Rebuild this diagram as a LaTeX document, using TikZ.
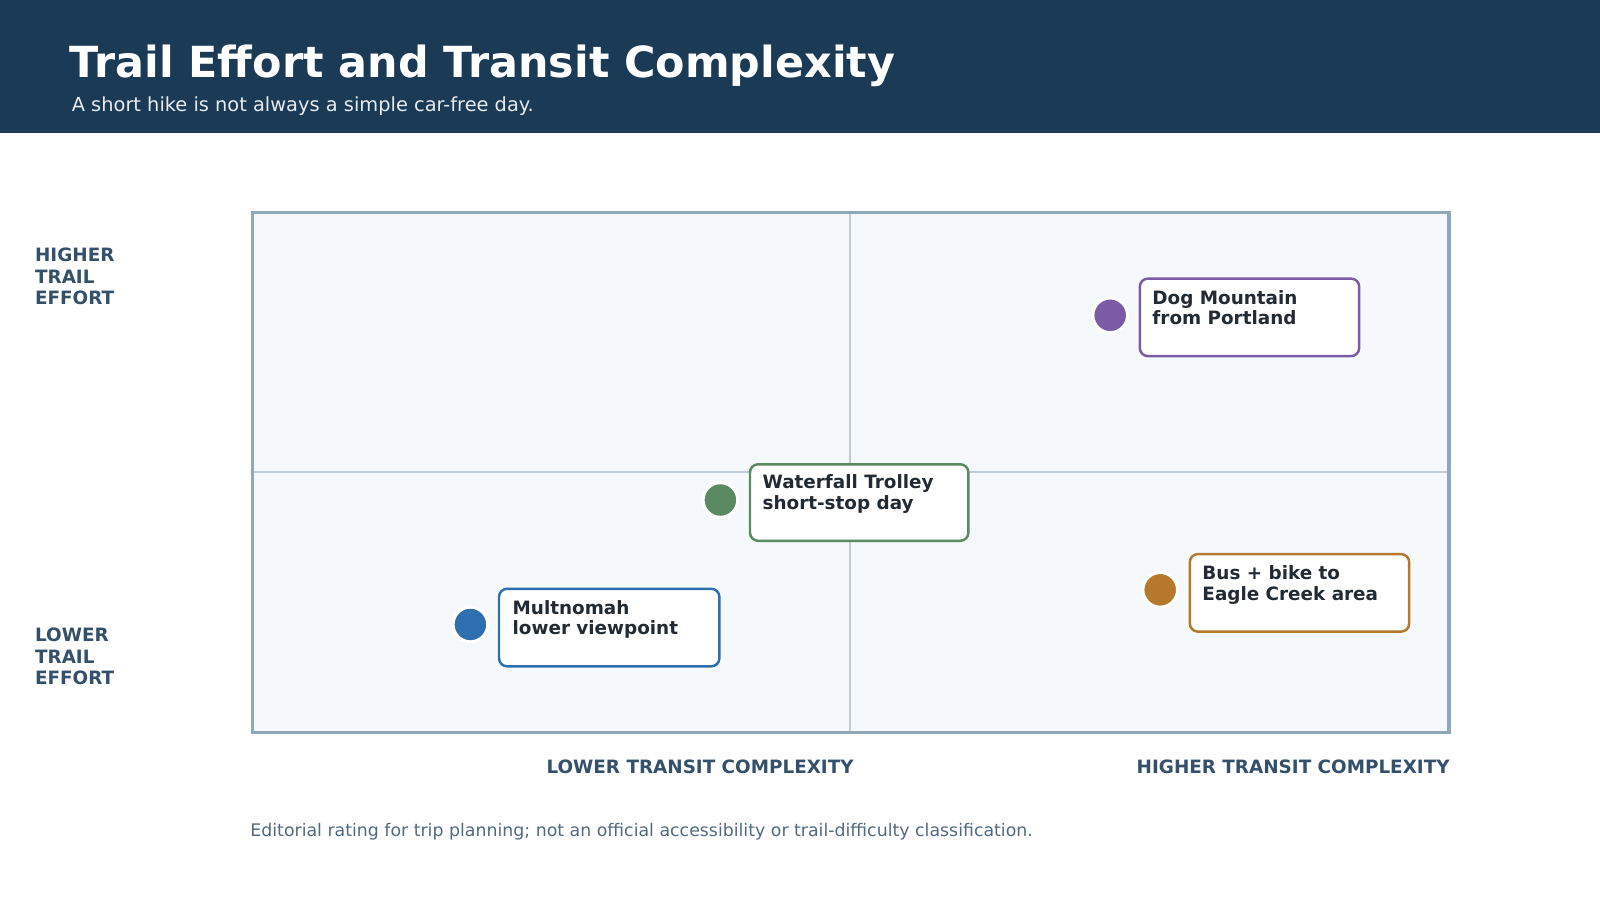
\documentclass[tikz,border=0pt]{standalone}
\usepackage{fontspec}
\setmainfont{DejaVu Sans}
\begin{document}
\begin{tikzpicture}[x=0.5pt,y=-0.5pt,
 lab/.style={font=\bfseries\fontsize{9}{10.5}\selectfont,text=axis,align=left},
 dot/.style={circle,minimum size=17pt,inner sep=0,draw=white,line width=1.5pt},
 card/.style={draw=#1,line width=1.2pt,rounded corners=4pt,fill=white},
 ctext/.style={anchor=north west,inner sep=0,font=\bfseries\fontsize{9}{10}\selectfont,text=txt,align=left}]
\definecolor{navy}{HTML}{1A3A56}
\definecolor{axis}{HTML}{34506A}
\definecolor{frame}{HTML}{8FA8BA}
\definecolor{mid}{HTML}{C0CDD8}
\definecolor{bg}{HTML}{F5F9FC}
\definecolor{txt}{HTML}{222B33}
\definecolor{cpur}{HTML}{7B5BA6}
\definecolor{cgrn}{HTML}{5B8A62}
\definecolor{cblu}{HTML}{2E6FB0}
\definecolor{corg}{HTML}{B5782C}
\useasboundingbox (0,0) rectangle (1568,882);
\fill[navy] (0,0) rectangle (1568,130);
\node[anchor=base west,inner sep=0,text=white,font=\bfseries\fontsize{21}{24}\selectfont] (title) at (68,76) {Trail Effort and Transit Complexity};
\node[anchor=base west,inner sep=0,text=white!90!navy,font=\fontsize{9.5}{11}\selectfont] (sub) at (70,109) {A short hike is not always a simple car-free day.};
\fill[bg] (247,208) rectangle (1420,718);
\draw[mid,line width=1pt] (833,208) -- (833,718) (247,463) -- (1420,463);
\draw[frame,line width=1.5pt] (247,208) rectangle (1420,718);
\node[lab,anchor=north west,inner sep=0] (hi) at (34,243) {HIGHER\\TRAIL\\EFFORT};
\node[lab,anchor=north west,inner sep=0] (lo) at (34,615) {LOWER\\TRAIL\\EFFORT};
\node[lab,anchor=base east,inner sep=0] (lx) at (837,758) {LOWER TRANSIT COMPLEXITY};
\node[lab,anchor=base east,inner sep=0] (hx) at (1421,758) {HIGHER TRANSIT COMPLEXITY};
\node[anchor=base west,inner sep=0,text=axis!85!white,font=\fontsize{8.5}{10}\selectfont] (foot) at (245,820) {Editorial rating for trip planning; not an official accessibility or trail-difficulty classification.};
\draw[card=cpur] (1117,273) rectangle (1332,349);
\node[ctext] (t1) at (1129,284) {Dog Mountain\\from Portland};
\node[dot,fill=cpur] (d1) at (1088,309) {};
\draw[card=cgrn] (735,455) rectangle (949,530);
\node[ctext] (t2) at (747,465) {Waterfall Trolley\\short-stop day};
\node[dot,fill=cgrn] (d2) at (706,490) {};
\draw[card=cblu] (489,577) rectangle (705,653);
\node[ctext] (t3) at (502,588) {Multnomah\\lower viewpoint};
\node[dot,fill=cblu] (d3) at (461,612) {};
\draw[card=corg] (1166,543) rectangle (1381,619);
\node[ctext] (t4) at (1178,554) {Bus + bike to\\Eagle Creek area};
\node[dot,fill=corg] (d4) at (1137,578) {};
\end{tikzpicture}
\end{document}
